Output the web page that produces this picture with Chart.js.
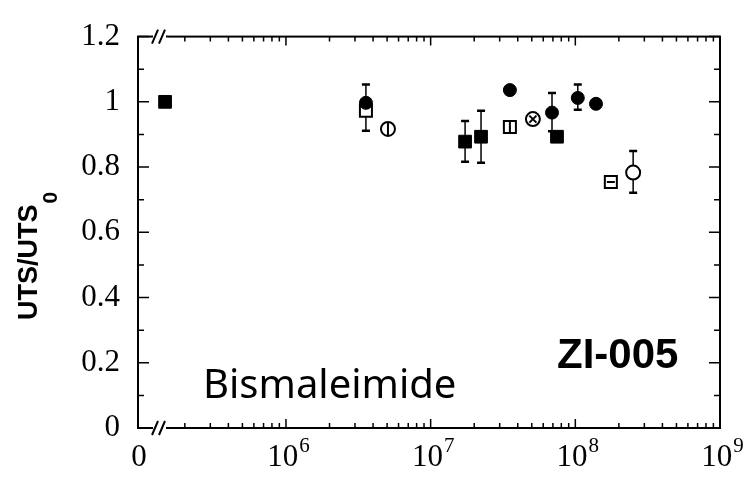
<!DOCTYPE html>
<html>
<head>
<meta charset="utf-8">
<script src="https://cdn.jsdelivr.net/npm/chart.js@4.4.1/dist/chart.umd.min.js"></script>
<style>
  html, body { margin:0; padding:0; background:#fff; }
</style>
</head>
<body>
<canvas id="grafico" width="744" height="477"></canvas>
<script>
// eixo x: ciclos (log), com quebra depois do "0"
var ZERO_N = 1.46e5;          // posição do ponto de 0 ciclos (antes da quebra)
var N_MIN = 9.49e4, N_MAX = 1e9;
var decadas = [1e6, 1e7, 1e8, 1e9];
var expoentes = ['6', '7', '8', '9'];

// eixo y: UTS/UTS0
var Y_MIN = 0, Y_MAX = 1.2, Y_PASSO = 0.2;

// quadrados cheios
var quadCheioN = [ZERO_N, 1.73e7, 2.23e7, 7.47e7];
var quadCheioR = [1.0, 0.878, 0.893, 0.893];

// circulos cheios
var circCheioN = [3.57e6, 3.53e7, 6.90e7, 1.04e8, 1.39e8];
var circCheioR = [0.997, 1.036, 0.967, 1.012, 0.994];

// quadrados abertos (marca interna: '' nada, '|' barra, '-' traço)
var quadAbertoN = [3.57e6, 3.53e7, 1.76e8];
var quadAbertoR = [0.973, 0.923, 0.754];
var quadAbertoMarca = ['', '|', '-'];

// circulos abertos (marca interna: '|' barra, 'x' cruz)
var circAbertoN = [5.07e6, 5.09e7, 2.51e8];
var circAbertoR = [0.917, 0.947, 0.783];
var circAbertoMarca = ['|', 'x', ''];

// barras de erro
var barraN   = [3.57e6, 1.73e7, 2.23e7, 6.90e7, 1.04e8, 2.51e8];
var barraMin = [0.911, 0.816, 0.813, 0.910, 0.976, 0.721];
var barraMax = [1.053, 0.941, 0.973, 1.027, 1.053, 0.849];

function serie(n, r){
    return n.map(function(v, i){ return {x: v, y: r[i]}; });
}

// monta as marcas internas dos simbolos abertos
var marcas = [], marcaEstilo = [], marcaRot = [], marcaRaio = [];
function addMarcas(n, r, m, raio){
    for(var i in n){
        if(m[i] == '') continue;
        marcas.push({x: n[i], y: r[i]});
        if(m[i] == 'x'){ marcaEstilo.push('crossRot'); marcaRot.push(0); marcaRaio.push(5); }
        else if(m[i] == '|'){ marcaEstilo.push('line'); marcaRot.push(90); marcaRaio.push(raio); }
        else { marcaEstilo.push('line'); marcaRot.push(0); marcaRaio.push(raio - 1); }
    }
}
addMarcas(quadAbertoN, quadAbertoR, quadAbertoMarca, 5);
addMarcas(circAbertoN, circAbertoR, circAbertoMarca, 6);

var XQUEBRA = 159; // centro do "//" nos eixos horizontais

var moldura = {
    id: 'moldura',
    beforeDatasetsDraw: function(chart){
        var ctx = chart.ctx, x = chart.scales.x, y = chart.scales.y;
        ctx.save();
        ctx.strokeStyle = '#000';
        for(var i in barraN){
            var px = x.getPixelForValue(barraN[i]);
            var y1 = y.getPixelForValue(barraMin[i]);
            var y2 = y.getPixelForValue(barraMax[i]);
            ctx.lineWidth = 1.5;
            ctx.beginPath(); ctx.moveTo(px, y1); ctx.lineTo(px, y2); ctx.stroke();
            ctx.lineWidth = 2.5;
            ctx.beginPath();
            ctx.moveTo(px - 4, y1); ctx.lineTo(px + 4, y1);
            ctx.moveTo(px - 4, y2); ctx.lineTo(px + 4, y2);
            ctx.stroke();
        }
        ctx.restore();
    },
    afterDraw: function(chart){
        var ctx = chart.ctx, a = chart.chartArea;
        var x = chart.scales.x, y = chart.scales.y;
        ctx.save();
        ctx.strokeStyle = '#000';
        ctx.fillStyle = '#000';

        // caixa
        ctx.lineWidth = 2;
        ctx.strokeRect(a.left, a.top, a.right - a.left, a.bottom - a.top);

        // ticks do y (para dentro, dos dois lados)
        ctx.lineWidth = 1.5;
        for(var k = 0; k <= 12; k++){
            var py = y.getPixelForValue(k / 10);
            var len = (k % 2 == 0) ? 11 : 6;
            ctx.beginPath();
            ctx.moveTo(a.left, py); ctx.lineTo(a.left + len, py);
            ctx.moveTo(a.right, py); ctx.lineTo(a.right - len, py);
            ctx.stroke();
        }

        // ticks do x: decadas e intermediarios, depois da quebra
        for(var d = 5; d <= 9; d++){
            for(var m = 1; m <= 9; m++){
                var v = m * Math.pow(10, d);
                if(v > N_MAX) break;
                var px = x.getPixelForValue(v);
                if(px < XQUEBRA + 12) continue;
                var l = (m == 1) ? 9 : 5;
                ctx.beginPath();
                ctx.moveTo(px, a.bottom); ctx.lineTo(px, a.bottom - l);
                ctx.moveTo(px, a.top); ctx.lineTo(px, a.top + l);
                ctx.stroke();
            }
        }

        // quebra "//" em cima e embaixo
        [a.top, a.bottom].forEach(function(py){
            ctx.fillStyle = '#fff';
            ctx.fillRect(XQUEBRA - 8, py - 3, 17, 6);
            ctx.strokeStyle = '#000';
            ctx.lineWidth = 2;
            ctx.beginPath();
            ctx.moveTo(XQUEBRA - 8, py); ctx.lineTo(XQUEBRA - 6, py);
            ctx.moveTo(XQUEBRA + 7, py); ctx.lineTo(XQUEBRA + 9, py);
            ctx.moveTo(XQUEBRA - 7, py + 7); ctx.lineTo(XQUEBRA - 1, py - 7);
            ctx.moveTo(XQUEBRA,     py + 7); ctx.lineTo(XQUEBRA + 6, py - 7);
            ctx.stroke();
        });

        // rotulos do eixo x
        ctx.fillStyle = '#000';
        ctx.textBaseline = 'alphabetic';
        ctx.font = '31px "Liberation Serif"';
        ctx.textAlign = 'center';
        ctx.fillText('0', a.left + 1, 466);
        for(var i in decadas){
            var px = x.getPixelForValue(decadas[i]);
            ctx.font = '31px "Liberation Serif"';
            var w1 = ctx.measureText('10').width;
            ctx.font = '21px "Liberation Serif"';
            var w2 = ctx.measureText(expoentes[i]).width;
            var x0 = px - (w1 + w2) / 2 + 2;
            ctx.textAlign = 'left';
            ctx.font = '31px "Liberation Serif"';
            ctx.fillText('10', x0, 466);
            ctx.font = '21px "Liberation Serif"';
            ctx.fillText(expoentes[i], x0 + w1 + 1, 452);
        }

        // titulo do eixo y
        ctx.save();
        ctx.translate(37, 320);
        ctx.rotate(-Math.PI / 2);
        ctx.textAlign = 'left';
        ctx.font = 'bold 27px "Liberation Sans"';
        ctx.fillText('UTS/UTS', 0, 0);
        var wt = ctx.measureText('UTS/UTS').width;
        ctx.font = 'bold 21px "Liberation Sans"';
        ctx.fillText('0', wt + 1, 20);
        ctx.restore();

        // textos dentro do grafico
        ctx.textAlign = 'left';
        ctx.font = 'bold 42px "Liberation Sans"';
        ctx.fillText('ZI-005', 557, 368);
        ctx.font = '40px "Noto Sans"';
        ctx.fillText('Bismaleimide', 203, 398);
        ctx.restore();
    }
};

var ctx = document.getElementById('grafico').getContext('2d');
var grafico = new Chart(ctx, {
    type: 'scatter',
    data: {
        datasets: [
            {
                label: 'Circulos cheios',
                data: serie(circCheioN, circCheioR),
                pointStyle: 'circle', pointRadius: 6.5,
                backgroundColor: '#000', borderColor: '#000', borderWidth: 1,
                order: 0
            },
            {
                label: 'Quadrados cheios',
                data: serie(quadCheioN, quadCheioR),
                pointStyle: 'rect', pointRadius: 9,
                backgroundColor: '#000', borderColor: '#000', borderWidth: 1,
                order: 1
            },
            {
                label: 'Marcas',
                data: marcas,
                pointStyle: marcaEstilo, rotation: marcaRot, pointRadius: marcaRaio,
                backgroundColor: '#000', borderColor: '#000', borderWidth: 2,
                order: 2
            },
            {
                label: 'Quadrados abertos',
                data: serie(quadAbertoN, quadAbertoR),
                pointStyle: 'rect', pointRadius: 8.5,
                backgroundColor: '#fff', borderColor: '#000', borderWidth: 2,
                order: 3
            },
            {
                label: 'Circulos abertos',
                data: serie(circAbertoN, circAbertoR),
                pointStyle: 'circle', pointRadius: 7,
                backgroundColor: '#fff', borderColor: '#000', borderWidth: 2,
                order: 3
            }
        ]
    },
    options: {
        responsive: false,
        animation: false,
        devicePixelRatio: 1,
        events: [],
        layout: { padding: { left: 0, right: 24, top: 23, bottom: 49 } },
        plugins: {
            legend: { display: false },
            tooltip: { enabled: false }
        },
        scales: {
            x: {
                type: 'logarithmic',
                min: N_MIN, max: N_MAX,
                display: false
            },
            y: {
                min: Y_MIN, max: Y_MAX,
                afterFit: function(s){ s.width = 138; },
                grid: { display: false, drawTicks: false },
                border: { display: false },
                ticks: {
                    stepSize: Y_PASSO,
                    padding: 18,
                    color: '#000',
                    font: { family: 'Liberation Serif', size: 31 },
                    callback: function(v){ return String(+v.toFixed(1)); }
                }
            }
        }
    },
    plugins: [moldura]
});
</script>
</body>
</html>
